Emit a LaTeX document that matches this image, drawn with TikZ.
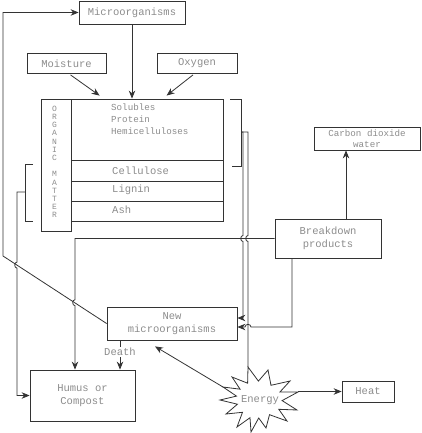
\documentclass[tikz,border=0pt]{standalone}
\usepackage{fontspec}
\setmonofont{Liberation Mono}
\usetikzlibrary{arrows.meta,calc}
\definecolor{txt}{gray}{0.55}
\definecolor{ln}{gray}{0.2}
\begin{document}
\begin{tikzpicture}[x=1bp,y=-1bp,
  every node/.style={inner sep=0pt},
  mono/.style={text=txt, font=\ttfamily\fontsize{10.5bp}{12.5bp}\selectfont},
  small/.style={text=txt, font=\ttfamily\fontsize{9.2bp}{10.5bp}\selectfont},
  vert/.style={text=txt, font=\ttfamily\fontsize{8bp}{8.2bp}\selectfont},
  box/.style={draw=ln, line width=0.8bp, align=center},
  wire/.style={draw=ln, line width=0.8bp},
  arr/.style={wire, -{Stealth[length=8bp,width=6.5bp]}},
]
\useasboundingbox (0,0) rectangle (421,433);

% boxes
\node[box, mono, minimum width=106bp, minimum height=23bp] (micro) at (132,12.5) {Microorganisms};
\node[box, mono, minimum width=79bp, minimum height=20bp] (moist) at (66.5,63.5) {Moisture};
\node[box, mono, minimum width=80bp, minimum height=20bp] (oxy) at (197,63.5) {Oxygen};

\node[box, minimum width=30bp, minimum height=132bp] (om) at (56,165) {};
\node[vert, align=center] (omtext) at (54.5,162) {O\\R\\G\\A\\N\\I\\C\\[8.2bp]M\\A\\T\\T\\E\\R};

\node[box, minimum width=152bp, minimum height=61bp] (sol) at (147,129.5) {};
\node[box, minimum width=152bp, minimum height=21bp] (cell) at (147,170.5) {};
\node[box, minimum width=152bp, minimum height=20bp] (lig) at (147,191) {};
\node[box, minimum width=152bp, minimum height=20bp] (ash) at (147,211) {};

\node[small, anchor=base west] (t1) at (111,110.5) {Solubles};
\node[small, anchor=base west] (t2) at (111,122.5) {Protein};
\node[small, anchor=base west] (t3) at (111,134.5) {Hemicelluloses};
\node[mono, anchor=base west] (t4) at (112,174.5) {Cellulose};
\node[mono, anchor=base west] (t5) at (112,192.5) {Lignin};
\node[mono, anchor=base west] (t6) at (112,213.5) {Ash};

\node[box, small, minimum width=106bp, minimum height=23bp] (co2) at (367,138.5) {Carbon dioxide\\water};
\node[box, mono, minimum width=106bp, minimum height=39bp] (bd) at (328,238.5) {Breakdown\\products};
\node[box, mono, minimum width=130bp, minimum height=33bp] (newm) at (172,323.5) {New\\microorganisms};
\node[box, mono, minimum width=105bp, minimum height=51bp] (hum) at (82.5,395.5) {Humus or\\Compost};
\node[box, mono, minimum width=52bp, minimum height=21bp] (heat) at (368,391.5) {Heat};

% energy star
\draw[wire, fill=white] (248,367) -- (258.4,381.1) -- (268,370) -- (271,385.3) -- (290,381)
  -- (280,391.9) -- (298,392) -- (282.1,400.6) -- (297,410) -- (278.8,409.3) -- (287,421)
  -- (269.5,414.7) -- (266,428) -- (258.7,418) -- (251,432) -- (250,417.7) -- (237,427)
  -- (242.5,412.3) -- (226,414) -- (237.4,404.2) -- (220,400) -- (236.5,396.1) -- (223,387)
  -- (240.1,389.2) -- (232,377) -- (247.6,383.2) -- cycle;
\node[mono] (energy) at (260,400) {Energy};
\coordinate (eTop) at (248,367);
\coordinate (eLeft) at (223,387);
\coordinate (eRight) at (298,391.5);

% brackets
\draw[wire] (230,99) -- (241,99) -- (241,166) -- (232,166);
\coordinate (bR) at (241,132);
\draw[wire] (33,164) -- (25,164) -- (25,221) -- (33,221);
\coordinate (bL) at (25,192);

% helper coordinates
\coordinate (x346) at (346,0);
\coordinate (x292) at (292,0);
\coordinate (x120) at (120,0);
\coordinate (lx) at (17,192);
\coordinate (hx) at (75,238.5);

% inputs
\draw[arr] (micro.south) -- (micro.south |- sol.north);
\draw[arr] ($(moist.south)+(4,1)$) -- ($(sol.north west)+(29,-3)$);
\draw[arr] ($(oxy.south)+(-4,1)$) -- ($(sol.north west)+(96,-3)$);
\draw[arr] (bd.north -| x346) -- (co2.south -| x346);

% breakdown to humus
\draw[arr] (bd.west) -- (hx) -- (75,299.7) .. controls (72,299.7) and (72,305.7) .. (75,305.7) -- (hx |- hum.north);

% new micro back to microorganisms
\draw[arr] (newm.west) -- (3,256) -- (3,12.5) -- (micro.west);

% left bracket to humus
\draw[arr] (bL) -- (lx) -- (17,262.1) .. controls (14,262.1) and (14,268.1) .. (17,268.1) -- (lx |- hum.west) -- (hum.west);

% right bracket lines
\draw[wire] (bR) -- (248,132) -- (248,235.5) .. controls (245,235.5) and (245,241.5) .. (248,241.5) -- (eTop);
\draw[arr] (bR) -- (243,132) -- (243,235.5) .. controls (240,235.5) and (240,241.5) .. (243,241.5) -- (243,318) -- (newm.east |- 0,318);

% breakdown to new micro
\draw[arr] (bd.south -| x292) -- (292,327) -- (251,327) .. controls (251,323.5) and (245,323.5) .. (245,327) -- (newm.east |- 0,327);

% death
\draw[arr] (newm.south -| x120) -- (x120 |- hum.north) node[mono, pos=0.4, fill=white, inner sep=1bp] {Death};

% energy links
\draw[arr] (eLeft) -- ($(newm.south)+(-17,6)$);
\draw[arr] (eRight) -- (heat.west);
\end{tikzpicture}
\end{document}
